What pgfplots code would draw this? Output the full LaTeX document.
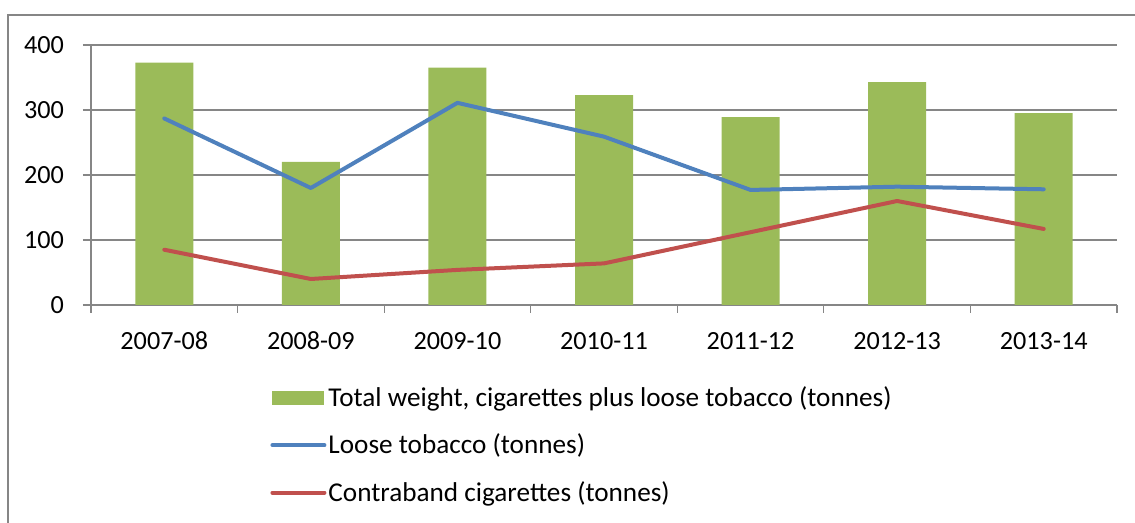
\documentclass[border=0pt]{standalone}
\usepackage{fontspec}
\setmainfont{Carlito}
\usepackage{pgfplots}
\pgfplotsset{compat=1.18}

\definecolor{xlgreen}{HTML}{9BBB59}
\definecolor{xlblue}{HTML}{4F81BD}
\definecolor{xlred}{HTML}{C0504D}
\definecolor{xlgray}{HTML}{868686}

\newcommand{\tickfont}{\fontsize{13.1}{15}\selectfont}
\newcommand{\legfont}{\fontsize{13.6}{16}\selectfont}

\begin{document}
\begin{tikzpicture}
% page = 1135 x 523 px, 1 px = 0.5pt
\path[use as bounding box] (0,0) rectangle (567.5pt,261.5pt);
\clip (0,0) rectangle (567.5pt,261.5pt);
\draw[xlgray, line width=0.6pt] (4pt,-10pt) -- (4pt,254pt) -- (600pt,254pt);

\begin{axis}[
    at={(45.5pt,109pt)}, anchor=south west,
    scale only axis,
    width=513pt, height=130pt,
    xmin=-0.5, xmax=6.5,
    ymin=0, ymax=400,
    ytick={0,100,...,400},
    xtick={-0.5,0.5,...,6.5},
    x tick label as interval,
    xticklabels={2007-08,2008-09,2009-10,2010-11,2011-12,2012-13,2013-14},
    axis lines*=left,
    axis line style={xlgray, line width=0.6pt},
    tick align=outside,
    major tick length=4pt,
    tick style={xlgray, line width=0.6pt},
    ymajorgrids,
    grid style={xlgray, line width=0.6pt},
    tick label style={font=\tickfont},
    xticklabel style={yshift=-6pt},
    yticklabel style={xshift=-6pt},
    /pgf/number format/assume math mode=true,
    legend style={at={(0.1745,-0.296)}, anchor=north west, draw=none,
        font=\legfont, inner sep=0pt, row sep=8.25pt,
        nodes={inner xsep=1pt}},
    legend cell align=left,
]
\addplot[ybar, bar width=29pt, fill=xlgreen, draw=none,
    legend image code/.code={\fill[xlgreen] (0pt,-3.5pt) rectangle (26pt,3.5pt);}]
    coordinates {(0,373) (1,220) (2,365) (3,323) (4,289) (5,343) (6,295)};
\addlegendentry{Total weight, cigarettes plus loose tobacco (tonnes)}
\addplot[sharp plot, xlblue, line width=2pt, line cap=round, line join=round,
    legend image code/.code={\draw[xlblue, line width=2pt, line cap=round] (0pt,0pt) -- (26pt,0pt);}]
    coordinates {(0,287) (1,180) (2,311) (3,259) (4,177) (5,182) (6,178)};
\addlegendentry{Loose tobacco (tonnes)}
\addplot[sharp plot, xlred, line width=2pt, line cap=round, line join=round,
    legend image code/.code={\draw[xlred, line width=2pt, line cap=round] (0pt,0pt) -- (26pt,0pt);}]
    coordinates {(0,85) (1,40) (2,54) (3,64) (4,112) (5,160) (6,117)};
\addlegendentry{Contraband cigarettes (tonnes)}
\end{axis}
\end{tikzpicture}
\end{document}
